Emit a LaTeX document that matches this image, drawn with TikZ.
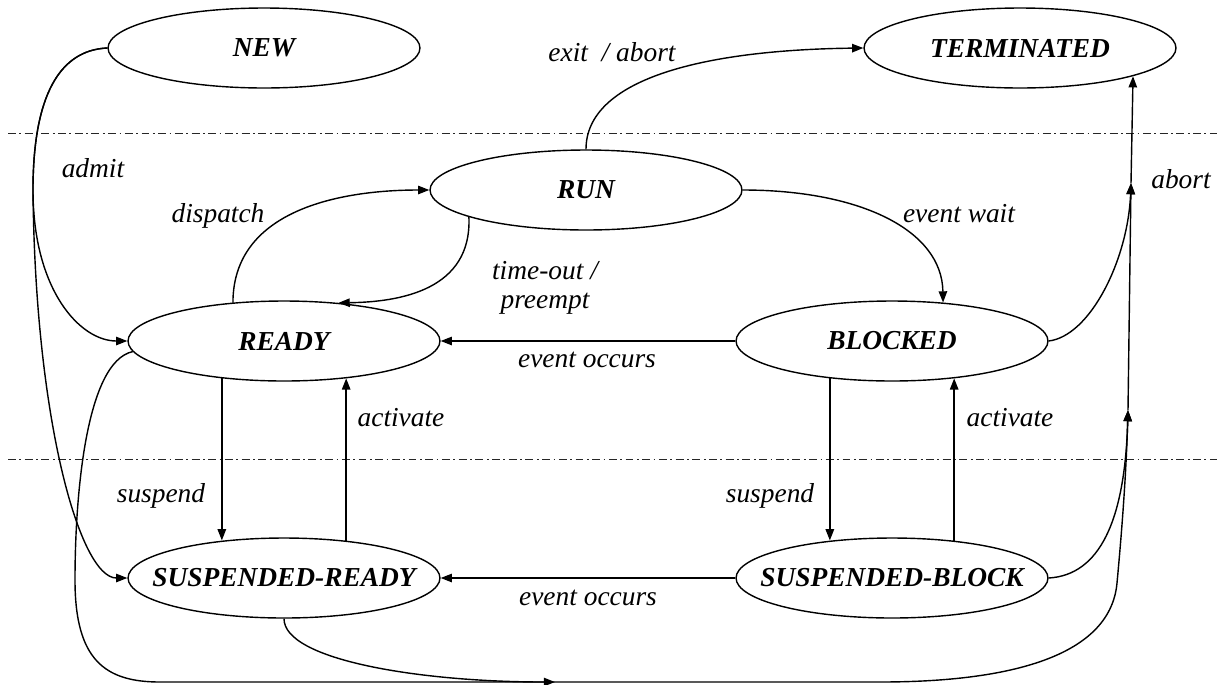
\documentclass[tikz,border=0pt]{standalone}
\usepackage{fontspec}
\setmainfont{Liberation Serif}
\usetikzlibrary{arrows.meta,shapes.geometric}

\tikzset{
  state/.style={ellipse, draw, line width=0.8pt, minimum width=6.24cm, minimum height=1.6cm,
    inner xsep=-1cm, inner ysep=0pt, font=\fontsize{15.6}{18}\selectfont\bfseries\itshape},
  lbl/.style={font=\fontsize{15.6}{16.4}\selectfont\itshape, anchor=base, inner sep=0pt},
  arr/.style={-{Triangle[length=6.4pt,width=4.8pt]}, line width=0.8pt},
  sepline/.style={line width=0.5pt, black!85, dash pattern=on 4.5pt off 2pt on 1pt off 2pt}
}

\begin{document}
\begin{tikzpicture}[x=0.02cm,y=-0.02cm]
  \useasboundingbox[fill=white] (0,0) rectangle (1217,684);

  % level separators
  \draw[sepline] (8,133) -- (1217,133);
  \draw[sepline] (8,459) -- (1217,459);

  % process states
  \node[state] (new)     at (264,48)  {NEW};
  \node[state] (term)    at (1020,48) {TERMINATED};
  \node[state] (run)     at (586,190) {RUN};
  \node[state] (ready)   at (284,341) {READY};
  \node[state] (blocked) at (892,341) {BLOCKED};
  \node[state] (sready)  at (284,578) {SUSPENDED-READY};
  \node[state] (sblock)  at (892,578) {SUSPENDED-BLOCK};

  % junctions on the abort line and the bottom bus
  \coordinate (j1) at (1128,410);
  \coordinate (j2) at (1131,183);
  \coordinate (m)  at (555,682);

  % admit (both branches share the same start)
  \draw[arr] (new.west) .. controls (60,50) and (33,95) .. (33,190)
                        .. controls (33,290) and (80,341) .. (ready.west);
  \draw[arr] (new.west) .. controls (60,50) and (33,95) .. (33,190)
                        .. controls (35,420) and (80,578) .. (sready.west);

  % dispatch / time-out
  \draw[arr] (ready.143.5) .. controls (233,210) and (340,190) .. (run.west);
  \draw[arr] (run.193.5) .. controls (472,290) and (400,302) .. (ready.35.4);

  % event wait / exit
  \draw[arr] (run.east) .. controls (860,190) and (942,230) .. (blocked.37.2);
  \draw[arr] (run.north) .. controls (586,80) and (700,50) .. (term.west);

  % event occurs
  \draw[arr] (blocked.west) -- (ready.east);
  \draw[arr] (sblock.west) -- (sready.east);

  % suspend / activate (kept exactly vertical)
  \draw[arr] (ready.211.6) -- (ready.211.6 |- sready.148.4);
  \draw[arr] (sready.31.6) -- (sready.31.6 |- ready.-31.6);
  \draw[arr] (blocked.211.6) -- (blocked.211.6 |- sblock.148.4);
  \draw[arr] (sblock.31.6) -- (sblock.31.6 |- blocked.-31.6);

  % abort paths
  \draw[arr] (blocked.east) .. controls (1090,336) and (1128,260) .. (j2);
  \draw[arr] (sblock.east) .. controls (1100,575) and (1125,520) .. (j1);
  \draw[arr] (j1) -- (j2);
  \draw[arr] (j2) -- (term.-14.2);
  \draw[arr] (ready.184) .. controls (85,362) and (75,500) .. (75,580)
             .. controls (75,660) and (105,682) .. (160,682) -- (880,682)
             .. controls (1000,682) and (1110,660) .. (1117,583)
             .. controls (1121,540) and (1126,480) .. (j1);
  \draw[arr] (sready.south) .. controls (284,660) and (420,682) .. (m);

  % transition labels
  \node[lbl] (l-exit)  at (612,61)  {exit~~/ abort};
  \node[lbl] (l-admit) at (93,177)  {admit};
  \node[lbl] (l-disp)  at (218,222) {dispatch};
  \node[lbl, anchor=center, align=center] (l-tout) at (545,288) {time-out /\\preempt};
  \node[lbl] (l-evo1)  at (587,367) {event occurs};
  \node[lbl] (l-evo2)  at (588,605) {event occurs};
  \node[lbl] (l-wait)  at (959,222) {event wait};
  \node[lbl] (l-abort) at (1181,188) {abort};
  \node[lbl] (l-act1)  at (401,426) {activate};
  \node[lbl] (l-act2)  at (1010,426) {activate};
  \node[lbl] (l-sus1)  at (161,502) {suspend};
  \node[lbl] (l-sus2)  at (770,502) {suspend};
\end{tikzpicture}
\end{document}
